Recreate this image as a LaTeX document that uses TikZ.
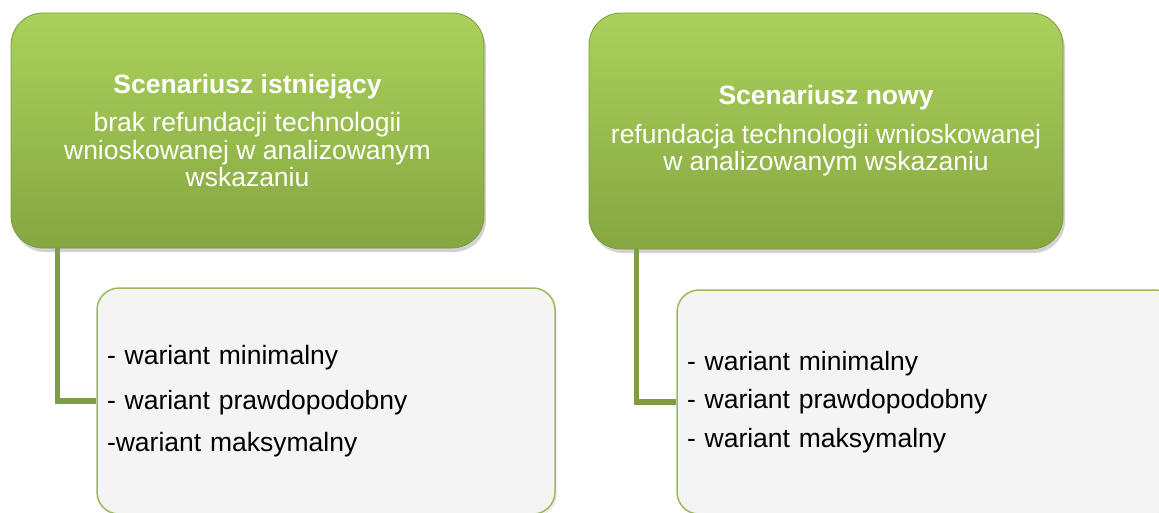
\documentclass[tikz,border=0pt]{standalone}
\usepackage{fontspec}
\setmainfont{Liberation Sans}
\usetikzlibrary{shadows}

\definecolor{greenTop}{HTML}{AAD15B}
\definecolor{greenBot}{HTML}{86A641}
\definecolor{greenRim}{HTML}{7C9A3C}
\definecolor{linkGreen}{HTML}{7F9D47}
\definecolor{listRim}{HTML}{9BBB59}
\definecolor{listFill}{HTML}{F4F4F4}

\begin{document}
\begin{tikzpicture}[x=1pt, y=-1pt,
  every node/.style={font=\fontsize{26.5}{27.5}\selectfont},
  scen/.style={rectangle, rounded corners=32pt, top color=greenTop, bottom color=greenBot,
    draw=greenRim, line width=0.8pt, text=white, align=center,
    drop shadow={opacity=0.35, shadow xshift=2pt, shadow yshift=-4pt}},
  variants/.style={rectangle, rounded corners=22pt, fill=listFill, draw=listRim, line width=1.5pt,
    align=left, inner xsep=10pt, text width=438pt,
    drop shadow={opacity=0.12, shadow xshift=2pt, shadow yshift=-3pt}},
  link/.style={draw=linkGreen, line width=5.5pt}]

\clip (0,0) rectangle (1159,512);
\fill[white] (0,0) rectangle (1159,512);

% Scenario boxes
\node[scen, minimum width=473pt, minimum height=235pt] (exist) at (247.5,130.5)
  {\textbf{Scenariusz istniejący}\\[11pt]brak refundacji technologii\\wnioskowanej w analizowanym\\wskazaniu};
\node[scen, minimum width=474pt, minimum height=236pt] (new) at (826,131)
  {\textbf{Scenariusz nowy}\\[11pt]refundacja technologii wnioskowanej\\w analizowanym wskazaniu};

% Variant boxes
\node[variants, minimum height=226pt] (varA) at (326,401)
  {- wariant minimalny\\[17.5pt]- wariant prawdopodobny\\[14.5pt]-wariant maksymalny};
\node[variants, text width=481pt, minimum height=224pt] (varB) at (927.5,402)
  {- wariant minimalny\\[11pt]- wariant prawdopodobny\\[11pt]- wariant maksymalny};

% Links
\draw[link] ([xshift=47pt]exist.south west) |- (varA.west);
\draw[link] ([xshift=48pt]new.south west) |- (varB.west);

\end{tikzpicture}
\end{document}
